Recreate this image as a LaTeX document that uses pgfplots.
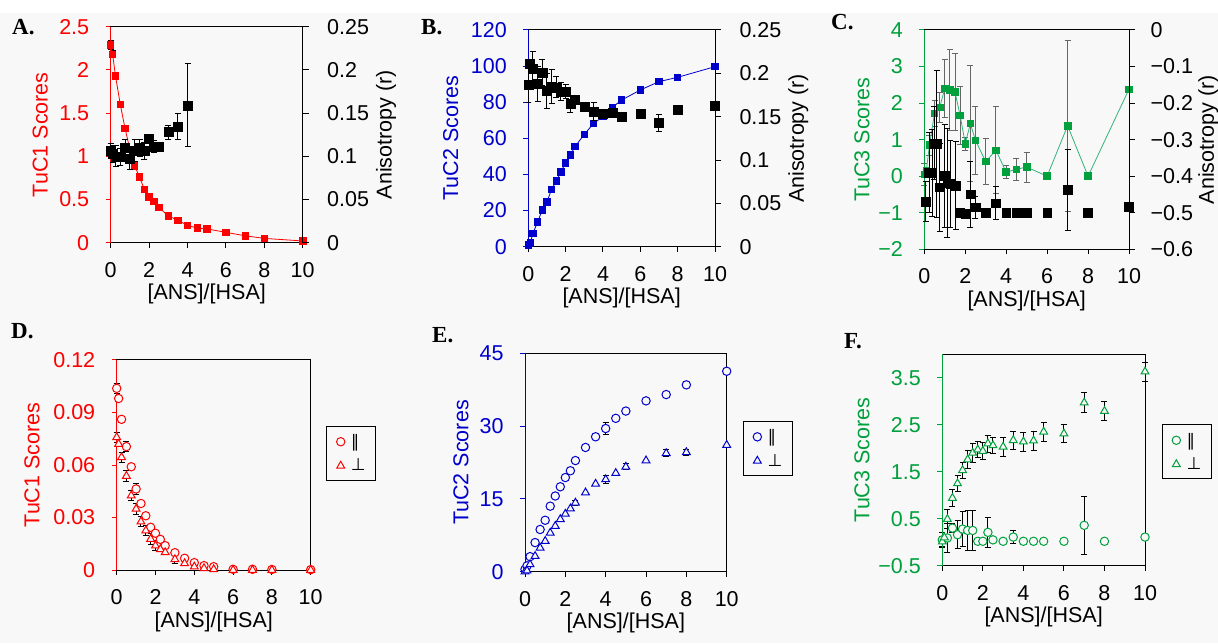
\documentclass[border=0pt]{standalone}
\usepackage{fontspec}
\setmainfont{Liberation Sans}
\newfontfamily\lettfont{Liberation Serif}
\newfontfamily\symf{DejaVu Sans}
\usepackage{pgfplots}
\pgfplotsset{compat=1.18}
\definecolor{tred}{HTML}{FF0000}
\definecolor{tblue}{HTML}{0000CC}
\definecolor{tgreen}{HTML}{00A03C}
\definecolor{tgline}{HTML}{33B37A}
\definecolor{bgc}{HTML}{F8F8F8}
\newcommand\fs{\fontsize{21.5}{25}\selectfont}
\newcommand\lf{\lettfont\bfseries\fontsize{23}{25}\selectfont}

\pgfplotsset{
  panel/.style={scale only axis, clip=false, xmin=0, xmax=10, xtick={0,2,4,6,8,10},
    tick align=outside, major tick length=5pt, xtick pos=bottom, ytick pos=left,
    tick label style={font=\fs}, label style={font=\fs},
    xticklabel style={yshift=-11pt}, yticklabel style={xshift=-13pt},
    /pgf/number format/assume math mode=true, /pgf/number format/fixed,
    scaled y ticks=false,
    axis line style={line width=1pt}, tick style={line width=1pt, black},
    xlabel={[ANS]/[HSA]}},
  twin/.style={scale only axis, clip=false, xmin=0, xmax=10,
    axis x line=none, axis y line=right,
    tick align=outside, major tick length=6pt,
    tick label style={font=\fs}, label style={font=\fs},
    /pgf/number format/assume math mode=true, /pgf/number format/fixed,
    scaled y ticks=false,
    axis line style={line width=1pt, -}, tick style={line width=1pt, black},
    ylabel={Anisotropy (r)}},
  errs/.style={error bars/.cd, y dir=both, y explicit,
    error bar style={#1, line width=1pt},
    error mark options={rotate=90, #1, mark size=3pt, line width=1pt}},
  errs/.default=black,
  leg/.style={legend style={at={#1}, anchor=west, draw=black, line width=1pt,
    fill=none, font=\symf\fontsize{17}{19}\selectfont, inner xsep=10pt, inner ysep=8pt,
    row sep=10pt, column sep=6pt, nodes={inner sep=0pt}},
    legend cell align=left},
}

\begin{document}
\begin{tikzpicture}
\fill[white] (0,0) rectangle (1218pt,643pt);
\fill[bgc] (0,0) rectangle (1218pt,630pt);
\path[use as bounding box] (0,0) rectangle (1218pt,643pt);

% ---------- A ----------
\begin{axis}[panel, at={(110.7pt,400.3pt)}, anchor=south west, width=192pt, height=216pt,
  ymin=0, ymax=2.5, ytick={0,0.5,1,1.5,2,2.5}, ylabel={TuC1 Scores},
  ylabel style={tred, yshift=4.7pt}, yticklabel style={tred}, ytick style={tred}]
\addplot[forget plot, only marks, mark=none, errs] coordinates {
  (0,2.29) +- (0,0.05) (0.1,2.18) +- (0,0.04) (0.25,1.93) +- (0,0.04)
  (0.5,1.60) +- (0,0.04) (0.75,1.32) +- (0,0.025) (1.25,0.89) +- (0,0.02)
  (1.5,0.76) +- (0,0.02) (2,0.53) +- (0,0.02) (2.25,0.48) +- (0,0.02)};
\addplot[tred, line width=0.8pt, mark=square*, mark size=3.2pt] coordinates {
  (0,2.29) (0.1,2.18) (0.25,1.93) (0.5,1.60) (0.75,1.32) (1,1.08) (1.25,0.89)
  (1.5,0.76) (1.75,0.62) (2,0.53) (2.25,0.48) (2.5,0.41) (3,0.31) (3.5,0.26)
  (4,0.20) (4.5,0.17) (5,0.16) (6,0.12) (7,0.08) (8,0.05) (10,0.02)};
\draw[tred, line width=1pt] (rel axis cs:0,0) -- (rel axis cs:0,1);
\end{axis}
\begin{axis}[twin, at={(110.7pt,400.3pt)}, anchor=south west, width=192pt, height=216pt,
  ymin=0, ymax=0.25, ytick={0,0.05,0.1,0.15,0.2,0.25}, yticklabel style={xshift=15pt}]
\addplot[black, only marks, mark=square*, mark size=4.5pt, errs] coordinates {
  (0,0.1065) +- (0,0.008) (0.1,0.103) +- (0,0.01) (0.25,0.100) +- (0,0.012)
  (0.5,0.0995) +- (0,0.01) (0.75,0.110) +- (0,0.01) (1,0.097) +- (0,0.012)
  (1.25,0.107) +- (0,0.013) (1.5,0.110) +- (0,0.01) (1.75,0.106) +- (0,0.01)
  (2,0.120) +- (0,0.005) (2.25,0.111) +- (0,0.007) (2.5,0.111) +- (0,0.005)
  (3,0.128) +- (0,0.008) (3.5,0.134) +- (0,0.015) (4,0.159) +- (0,0.048)};
\end{axis}
\node[font=\lf, anchor=west, inner sep=0] at (12pt,616pt) {A.};

% ---------- B ----------
\begin{axis}[panel, at={(528.3pt,396.3pt)}, anchor=south west, width=186.7pt, height=216.7pt,
  ymin=0, ymax=120, ytick={0,20,40,60,80,100,120}, ylabel={TuC2 Scores},
  ylabel style={tblue, yshift=5.6pt}, yticklabel style={tblue}, ytick style={tblue}]
\addplot[forget plot, only marks, mark=none, errs] coordinates {
  (0.5,13.8) +- (0,1) (1,24.9) +- (0,1.2) (1.5,36.4) +- (0,1) (2,46.5) +- (0,1)
  (2.5,55.4) +- (0,1.2) (3,62.2) +- (0,1.2) (5,81.2) +- (0,1) (6,86.8) +- (0,1)
  (7,91.4) +- (0,1) (8,93.8) +- (0,1.2)};
\addplot[tblue, line width=0.8pt, mark=square*, mark size=3.2pt] coordinates {
  (0,0.9) (0.1,2.0) (0.25,7.4) (0.5,13.8) (0.75,20.3) (1,24.9) (1.25,31.8)
  (1.5,36.4) (1.75,41.5) (2,46.5) (2.25,50.8) (2.5,55.4) (3,62.2) (3.5,68.3)
  (4,72.0) (4.5,77.2) (5,81.2) (6,86.8) (7,91.4) (8,93.8) (10,99.7)};
\draw[tblue, line width=1pt] (rel axis cs:0,0) -- (rel axis cs:0,1);
\end{axis}
\begin{axis}[twin, at={(528.3pt,396.3pt)}, anchor=south west, width=186.7pt, height=216.7pt,
  ymin=0, ymax=0.25, ytick={0,0.05,0.1,0.15,0.2,0.25}, yticklabel style={xshift=15pt}]
\addplot[black, only marks, mark=square*, mark size=4.5pt, errs] coordinates {
  (0,0.1865) +- (0,0.02) (0.1,0.211) +- (0,0.005) (0.25,0.205) +- (0,0.02)
  (0.5,0.188) +- (0,0.02) (0.75,0.201) +- (0,0.015) (1,0.180) +- (0,0.02)
  (1.25,0.185) +- (0,0.02) (1.5,0.184) +- (0,0.012) (1.75,0.179) +- (0,0.01)
  (2,0.179) +- (0,0.008) (2.25,0.165) +- (0,0.01) (2.5,0.170) +- (0,0.005)
  (3,0.162) +- (0,0.003) (3.5,0.156) +- (0,0.01) (4,0.153) +- (0,0.004)
  (4.5,0.155) +- (0,0.004) (5,0.150) +- (0,0.003) (6,0.154) +- (0,0.003)
  (7,0.143) +- (0,0.01) (8,0.158) +- (0,0.003) (10,0.163) +- (0,0.003)};
\end{axis}
\node[font=\lf, anchor=west, inner sep=0] at (421pt,616pt) {B.};

% ---------- C ----------
\begin{axis}[panel, at={(924.3pt,393.7pt)}, anchor=south west, width=204.7pt, height=219.3pt,
  ymin=-2, ymax=4, ytick={-2,-1,0,1,2,3,4}, yticklabels={−2,−1,0,1,2,3,4},
  ylabel={TuC3 Scores},
  ylabel style={tgreen, yshift=1.7pt}, yticklabel style={tgreen}, ytick style={tgreen}]
\addplot[forget plot, only marks, mark=none, errs=black!60] coordinates {
  (0,0.05) +- (0,0.3) (0.25,0.85) +- (0,0.27) (0.5,1.72) +- (0,0.36)
  (0.75,1.88) +- (0,0.40) (1,2.40) +- (0,0.79) (1.25,2.36) +- (0,1.11)
  (1.5,2.30) +- (0,1.06) (1.75,1.66) +- (0,0.79) (2,0.89) +- (0,0.18)
  (2.25,1.44) +- (0,1.58) (2.5,0.98) +- (0,0.93) (3,0.40) +- (0,0.64)
  (3.5,0.71) +- (0,1.19) (4,0.11) +- (0,0.18) (4.5,0.19) +- (0,0.30)
  (5,0.25) +- (0,0.41) (7,1.38) +- (0,2.34)};
\addplot[tgline, line width=0.8pt, mark=square*, mark size=3.3pt, mark options={tgreen}] coordinates {
  (0,0.05) (0.1,0.15) (0.25,0.85) (0.5,1.72) (0.75,1.88) (1,2.40) (1.25,2.36)
  (1.5,2.30) (1.75,1.66) (2,0.89) (2.25,1.44) (2.5,0.98) (3,0.40) (3.5,0.71)
  (4,0.11) (4.5,0.19) (5,0.25) (6,0.0) (7,1.38) (8,0.0) (10,2.38)};
\draw[tgreen, line width=1pt] (rel axis cs:0,0) -- (rel axis cs:0,1);
\end{axis}
\begin{axis}[twin, at={(924.3pt,393.7pt)}, anchor=south west, width=204.7pt, height=219.3pt,
  ymin=-0.6, ymax=0, ytick={-0.6,-0.5,-0.4,-0.3,-0.2,-0.1,0},
  yticklabels={−0.6,−0.5,−0.4,−0.3,−0.2,−0.1,0},
  yticklabel style={xshift=12pt}, ylabel style={yshift=1.5pt}]
\addplot[black, only marks, mark=square*, mark size=4.4pt, errs] coordinates {
  (0.07,-0.470) +- (0,0.055) (0.23,-0.390) +- (0,0.11) (0.39,-0.391) +- (0,0.12)
  (0.49,-0.310) +- (0,0.10) (0.6,-0.312) +- (0,0.20) (0.75,-0.430) +- (0,0.12)
  (1,-0.399) +- (0,0.14) (1.13,-0.419) +- (0,0.15) (1.27,-0.421) +- (0,0.12)
  (1.53,-0.426) +- (0,0.12) (1.75,-0.499) +- (0,0.004) (2,-0.502) +- (0,0.004)
  (2.25,-0.449) +- (0,0.09) (2.5,-0.485) +- (0,0.03) (3,-0.500) +- (0,0.004)
  (3.5,-0.474) +- (0,0.045) (4,-0.500) +- (0,0.004) (4.5,-0.500) +- (0,0.004)
  (5,-0.500) +- (0,0.004) (6,-0.500) +- (0,0.004) (7,-0.438) +- (0,0.11)
  (8,-0.500) +- (0,0.004) (10,-0.483) +- (0,0.004)};
\end{axis}
\node[font=\lf, anchor=west, inner sep=0] at (831pt,621pt) {C.};

% ---------- D ----------
\begin{axis}[panel, at={(116.7pt,73pt)}, anchor=south west, width=194pt, height=210pt,
  ymin=0, ymax=0.12, ytick={0,0.03,0.06,0.09,0.12}, ylabel={TuC1 Scores},
  ylabel style={tred, yshift=6.8pt}, yticklabel style={tred}, ytick style={tred},
  leg={(1.079,0.555)}]
\addplot[forget plot, only marks, mark=none, errs] coordinates {
  (0,0.1038) +- (0,0.003) (0.5,0.0705) +- (0,0.003) (1,0.0463) +- (0,0.003)
  (0,0.0758) +- (0,0.003) (0.25,0.0644) +- (0,0.003) (0.5,0.0537) +- (0,0.003)
  (0.75,0.0425) +- (0,0.003) (1,0.0349) +- (0,0.003) (1.25,0.0276) +- (0,0.003)
  (1.5,0.0225) +- (0,0.003) (1.75,0.0177) +- (0,0.003) (2,0.0139) +- (0,0.003)
  (3,0.0061) +- (0,0.0025)};
\addplot[tred, only marks, mark=*, mark size=4.2pt, line width=1pt, mark options={fill=bgc}] coordinates {
  (0,0.1038) (0.1,0.098) (0.25,0.0861) (0.5,0.0705) (0.75,0.059) (1,0.0463)
  (1.25,0.038) (1.5,0.031) (1.75,0.0244) (2,0.021) (2.25,0.0175) (2.5,0.0139)
  (3,0.0099) (3.5,0.0067) (4,0.0042) (4.5,0.0025) (5,0.0019) (6,0.0004)
  (7,0.0004) (8,0.0003) (10,0.0002)};
\addlegendentry{∥}
\addplot[tred, only marks, mark=triangle*, mark size=4.5pt, line width=1pt, mark options={fill=bgc}] coordinates {
  (0,0.0758) (0.1,0.072) (0.25,0.0644) (0.5,0.0537) (0.75,0.0425) (1,0.0349)
  (1.25,0.0276) (1.5,0.0225) (1.75,0.0177) (2,0.0139) (2.25,0.0118) (2.5,0.0101)
  (3,0.0061) (3.5,0.0038) (4,0.0019) (4.5,0.001) (5,0.0004) (6,0) (7,0) (8,0) (10,0)};
\addlegendentry{⊥}
\draw[tred, line width=1pt] (rel axis cs:0,0) -- (rel axis cs:0,1);
\end{axis}
\node[font=\lf, anchor=west, inner sep=0] at (11pt,312pt) {D.};

% ---------- E ----------
\begin{axis}[panel, at={(525pt,71.3pt)}, anchor=south west, width=201.7pt, height=218.4pt,
  ymin=0, ymax=45, ytick={0,15,30,45}, ylabel={TuC2 Scores},
  ylabel style={tblue, yshift=4pt}, yticklabel style={tblue}, ytick style={tblue}, leg={(1.079,0.564)}]
\addplot[forget plot, only marks, mark=none, errs] coordinates {
  (4,29.5) +- (0,1.3) (8,38.5) +- (0,0.6) (2.5,14.2) +- (0,0.5) (4,19.0) +- (0,0.8)
  (5,21.6) +- (0,0.6) (7,24.4) +- (0,0.7) (8,24.6) +- (0,0.6)};
\addplot[tblue, only marks, mark=*, mark size=4.2pt, line width=1pt, mark options={fill=bgc}] coordinates {
  (0,0.5) (0.1,1.2) (0.25,3.1) (0.5,6.0) (0.75,8.7) (1,10.6) (1.25,13.5)
  (1.5,15.6) (1.75,17.5) (2,19.4) (2.25,20.8) (2.5,22.9) (3,25.6) (3.5,27.8)
  (4,29.5) (4.5,31.6) (5,33.1) (6,35.2) (7,36.5) (8,38.5) (10,41.3)};
\addlegendentry{∥}
\addplot[tblue, only marks, mark=triangle*, mark size=4.5pt, line width=1pt, mark options={fill=bgc}] coordinates {
  (0,0) (0.1,0.2) (0.25,1.5) (0.5,3.2) (0.75,4.9) (1,6.3) (1.25,8.0) (1.5,9.4)
  (1.75,10.8) (2,11.9) (2.25,13.0) (2.5,14.2) (3,16.3) (3.5,18.1) (4,19.0)
  (4.5,20.3) (5,21.6) (6,22.9) (7,24.4) (8,24.6) (10,26.1)};
\addlegendentry{⊥}
\draw[tblue, line width=1pt] (rel axis cs:0,0) -- (rel axis cs:0,1);
\end{axis}
\node[font=\lf, anchor=west, inner sep=0] at (432pt,308pt) {E.};

% ---------- F ----------
\begin{axis}[panel, at={(942.3pt,77.3pt)}, anchor=south west, width=202.7pt, height=211.4pt,
  ymin=-0.5, ymax=4, ytick={-0.5,0.5,1.5,2.5,3.5}, yticklabels={−0.5,0.5,1.5,2.5,3.5},
  ylabel={TuC3 Scores},
  ylabel style={tgreen, yshift=1.8pt}, yticklabel style={tgreen}, ytick style={tgreen}, leg={(1.082,0.538)}]
\addplot[forget plot, only marks, mark=none, errs] coordinates {
  (0,0.01) +- (0,0.12) (0.25,0.49) +- (0,0.2) (0.5,0.94) +- (0,0.18)
  (0.75,1.25) +- (0,0.17) (1,1.53) +- (0,0.17) (1.25,1.76) +- (0,0.2)
  (1.5,1.90) +- (0,0.2) (1.75,1.97) +- (0,0.17) (2,1.94) +- (0,0.18)
  (2.25,2.10) +- (0,0.18) (2.5,2.06) +- (0,0.17) (3,2.03) +- (0,0.2)
  (3.5,2.17) +- (0,0.19) (4,2.14) +- (0,0.2) (4.5,2.16) +- (0,0.2)
  (5,2.35) +- (0,0.2) (6,2.31) +- (0,0.19) (7,2.97) +- (0,0.21)
  (8,2.79) +- (0,0.2) (10,3.63) +- (0,0.2)
  (0,0.05) +- (0,0.15) (0.25,0.09) +- (0,0.3) (0.5,0.30) +- (0,0.1)
  (0.75,0.16) +- (0,0.3) (1,0.28) +- (0,0.38) (1.25,0.25) +- (0,0.42)
  (1.5,0.25) +- (0,0.42) (2.25,0.21) +- (0,0.32) (3.5,0.11) +- (0,0.14)
  (7,0.36) +- (0,0.62)};
\addplot[tgreen, only marks, mark=*, mark size=4.2pt, line width=1pt, mark options={fill=bgc}] coordinates {
  (0,0.05) (0.25,0.09) (0.5,0.30) (0.75,0.16) (1,0.28) (1.25,0.25) (1.5,0.25)
  (1.75,0.02) (2,0.02) (2.25,0.21) (2.5,0.05) (3,0.02) (3.5,0.11) (4,0.02)
  (4.5,0.02) (5,0.02) (6,0.02) (7,0.36) (8,0.02) (10,0.11)};
\addlegendentry{∥}
\addplot[tgreen, only marks, mark=triangle*, mark size=4.5pt, line width=1pt, mark options={fill=bgc}] coordinates {
  (0,0.01) (0.1,0.1) (0.25,0.49) (0.5,0.94) (0.75,1.25) (1,1.53) (1.25,1.76)
  (1.5,1.90) (1.75,1.97) (2,1.94) (2.25,2.10) (2.5,2.06) (3,2.03) (3.5,2.17)
  (4,2.14) (4.5,2.16) (5,2.35) (6,2.31) (7,2.97) (8,2.79) (10,3.63)};
\addlegendentry{⊥}
\draw[tgreen, line width=1pt] (rel axis cs:0,0) -- (rel axis cs:0,1);
\end{axis}
\node[font=\lf, anchor=west, inner sep=0] at (844pt,302pt) {F.};
\end{tikzpicture}
\end{document}
